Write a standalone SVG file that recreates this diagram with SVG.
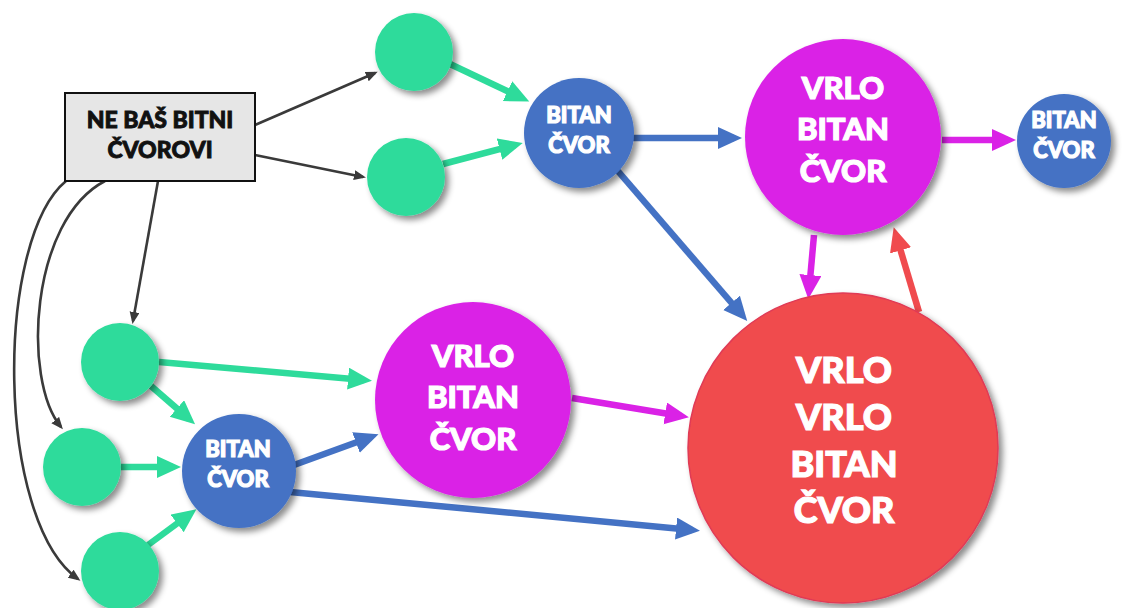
<svg xmlns="http://www.w3.org/2000/svg" width="1122" height="608" viewBox="0 0 1122 608">
<style>
.lbl{font-family:Lato,"Open Sans","Liberation Sans",sans-serif;font-weight:900;fill:#fff;stroke:#fff;stroke-width:1.2;text-anchor:middle}
.blk{font-family:Lato,"Open Sans","Liberation Sans",sans-serif;font-weight:900;fill:#111;stroke:#111;stroke-width:0.9;text-anchor:middle;font-size:23px}
.dk{stroke:#3a3a3a;stroke-width:2.6;fill:none;marker-end:url(#aDk)}
.gr{stroke:#2EDB9B;stroke-width:6.5;fill:none;marker-end:url(#aGr)}
.bl{stroke:#4472C4;stroke-width:6.5;fill:none;marker-end:url(#aBl)}
.mg{stroke:#DA22E6;stroke-width:6.5;fill:none;marker-end:url(#aMg)}
.rd{stroke:#F04B4E;stroke-width:6.5;fill:none;marker-end:url(#aRd)}
.green{fill:#2EDB9B}
.blue{fill:#4472C4}
.mag{fill:#DA22E6}
.red{fill:#F04B4E;stroke:#E03A55;stroke-width:1.5}
.sh{filter:url(#shadow)}
</style>
<defs>
<filter id="shadow" x="-20%" y="-20%" width="150%" height="150%">
<feDropShadow dx="4" dy="4" stdDeviation="3" flood-color="#000" flood-opacity="0.45"/>
</filter>
<marker id="aDk" markerUnits="userSpaceOnUse" markerWidth="14" markerHeight="12" refX="9" refY="5" orient="auto"><path d="M0,0 L12,5 L0,10 z" fill="#3a3a3a"/></marker>
<marker id="aGr" markerUnits="userSpaceOnUse" markerWidth="26" markerHeight="24" refX="16" refY="11" orient="auto"><path d="M0,0 L24,11 L0,22 z" fill="#2EDB9B"/></marker>
<marker id="aBl" markerUnits="userSpaceOnUse" markerWidth="26" markerHeight="24" refX="16" refY="11" orient="auto"><path d="M0,0 L24,11 L0,22 z" fill="#4472C4"/></marker>
<marker id="aMg" markerUnits="userSpaceOnUse" markerWidth="26" markerHeight="24" refX="16" refY="11" orient="auto"><path d="M0,0 L24,11 L0,22 z" fill="#DA22E6"/></marker>
<marker id="aRd" markerUnits="userSpaceOnUse" markerWidth="26" markerHeight="24" refX="16" refY="11" orient="auto"><path d="M0,0 L24,11 L0,22 z" fill="#F04B4E"/></marker>
</defs>
<rect width="1122" height="608" fill="#fff"/>
<g id="connectors">
<line class="dk" x1="255" y1="125" x2="375" y2="73"/>
<line class="dk" x1="255" y1="155" x2="363" y2="177"/>
<line class="dk" x1="158" y1="181" x2="133" y2="321"/>
<path class="dk" d="M105,181 C30,220 22,380 61,427"/>
<path class="dk" d="M66,181 C-5,240 -5,520 78,579"/>
<line class="gr" x1="450" y1="64" x2="522" y2="98"/>
<line class="gr" x1="443" y1="164" x2="515" y2="145"/>
<line class="gr" x1="159" y1="362" x2="364" y2="380"/>
<line class="gr" x1="151" y1="386" x2="189" y2="419"/>
<line class="gr" x1="121" y1="467" x2="173" y2="467"/>
<line class="gr" x1="148" y1="545" x2="190" y2="514"/>
<line class="bl" x1="633" y1="138" x2="734" y2="138"/>
<line class="bl" x1="617" y1="170" x2="742" y2="315"/>
<line class="bl" x1="294" y1="465" x2="371" y2="437"/>
<line class="bl" x1="290" y1="492" x2="692" y2="530"/>
<line class="mg" x1="572" y1="398" x2="681" y2="416"/>
<line class="mg" x1="814" y1="235" x2="809" y2="291"/>
<line class="mg" x1="942" y1="140" x2="1008" y2="140"/>
<line class="rd" x1="919" y1="312" x2="896" y2="235"/>
</g>
<g id="box">
<rect x="65" y="93" width="190" height="88" fill="#e6e6e6" stroke="#111" stroke-width="2"/>
<text class="blk" x="160" y="128">NE BAŠ BITNI</text>
<text class="blk" x="160" y="158">ČVOROVI</text>
</g>
<g id="g1"><circle class="green sh" cx="414" cy="52" r="39"/></g>
<g id="g2"><circle class="green sh" cx="406" cy="177" r="39"/></g>
<g id="g3"><circle class="green sh" cx="120" cy="362" r="39"/></g>
<g id="g4"><circle class="green sh" cx="82" cy="467" r="39"/></g>
<g id="g5"><circle class="green sh" cx="120" cy="571" r="39"/></g>
<g id="b1"><circle class="blue sh" cx="579" cy="133" r="55"/>
<text class="lbl" font-size="22" x="579" y="123">BITAN</text><text class="lbl" font-size="22" x="579" y="153">ČVOR</text></g>
<g id="b2"><circle class="blue sh" cx="1064" cy="141" r="47"/>
<text class="lbl" font-size="22" x="1064" y="128">BITAN</text><text class="lbl" font-size="22" x="1064" y="158">ČVOR</text></g>
<g id="b3"><circle class="blue sh" cx="239" cy="471" r="57"/>
<text class="lbl" font-size="22" x="238" y="457">BITAN</text><text class="lbl" font-size="22" x="238" y="487">ČVOR</text></g>
<g id="m1"><circle class="mag sh" cx="843" cy="137" r="98"/>
<text class="lbl" font-size="31" x="843" y="99">VRLO</text><text class="lbl" font-size="31" x="843" y="140">BITAN</text><text class="lbl" font-size="31" x="843" y="182">ČVOR</text></g>
<g id="m2"><circle class="mag sh" cx="473" cy="400" r="98"/>
<text class="lbl" font-size="31" x="473" y="367">VRLO</text><text class="lbl" font-size="31" x="473" y="408">BITAN</text><text class="lbl" font-size="31" x="473" y="450">ČVOR</text></g>
<g id="r1"><circle class="red sh" cx="843" cy="448" r="155"/>
<text class="lbl" font-size="36" x="844" y="383">VRLO</text><text class="lbl" font-size="36" x="844" y="430">VRLO</text><text class="lbl" font-size="36" x="844" y="477">BITAN</text><text class="lbl" font-size="36" x="844" y="523">ČVOR</text></g>
</svg>
